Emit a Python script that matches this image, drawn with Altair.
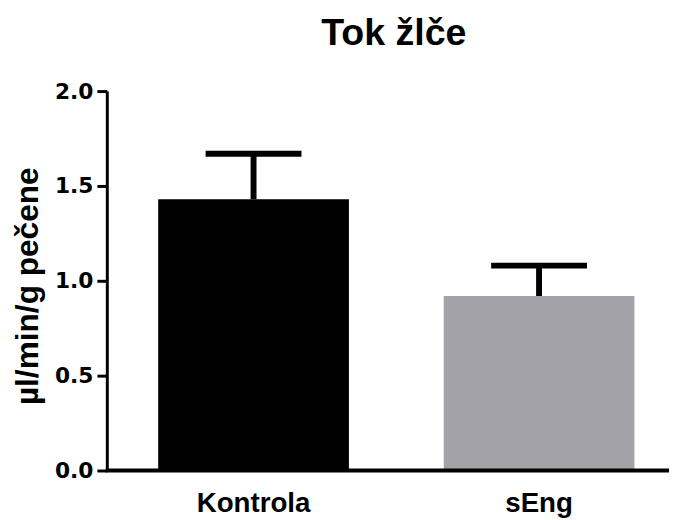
import altair as alt
import pandas as pd

groups = ["Kontrola", "sEng"]
means = [1.43, 0.92]
upper = [1.67, 1.08]
colors = ["#000000", "#a3a2a8"]
y_ticks = [0.0, 0.5, 1.0, 1.5, 2.0]

df = pd.DataFrame({"group": groups, "mean": means, "upper": upper})

FONT = "Liberation Sans"

x_enc = alt.X(
    "group:N",
    sort=groups,
    scale=alt.Scale(range=[52, 534], paddingInner=0.332, paddingOuter=0),
    axis=alt.Axis(
        title=None, domain=False, ticks=False, labelAngle=0,
        labelFont=FONT, labelFontSize=28, labelFontWeight="bold",
        labelColor="black", labelPadding=19,
    ),
)

y_scale = alt.Scale(domain=[0, 2], nice=False, zero=True)

bars = alt.Chart(df).mark_bar(opacity=1).encode(
    x=x_enc,
    y=alt.Y(
        "mean:Q",
        scale=y_scale,
        axis=alt.Axis(
            values=y_ticks, format=".1f", grid=False,
            domainColor="black", domainWidth=3, tickColor="black",
            tickWidth=3, tickSize=10, labelFont="DejaVu Sans", labelFontSize=22,
            labelFontWeight="bold", labelColor="black", labelPadding=4,
            title="µl/min/g pečene", titleFont=FONT, titleFontSize=32,
            titleFontWeight="bold", titleColor="black", titleAngle=270,
            titleX=-70, titleY=197, titleAlign="center",
            titleBaseline="alphabetic",
        ),
    ),
    color=alt.Color("group:N", scale=alt.Scale(domain=groups, range=colors), legend=None),
)

stems = alt.Chart(df).mark_rule(strokeWidth=6, color="black", opacity=1).encode(
    x=alt.X("group:N", sort=groups),
    y=alt.Y("mean:Q", scale=y_scale),
    y2="upper:Q",
)

caps = alt.Chart(df).mark_tick(thickness=6, size=97, color="black", opacity=1).encode(
    x=alt.X("group:N", sort=groups),
    y=alt.Y("upper:Q", scale=y_scale),
)

xline = alt.Chart(pd.DataFrame({"a": [0]})).mark_rule(strokeWidth=4, color="black", opacity=1).encode(
    x=alt.value(-1), x2=alt.value(569), y=alt.value(384)
)

chart = alt.layer(bars, stems, caps, xline).properties(
    width=569,
    height=384,
    background="white",
    autosize=alt.AutoSizeParams(type="none"),
    padding={"left": 100, "top": 81, "right": 1, "bottom": 47},
    title=alt.TitleParams(
        "Tok žlče", font=FONT, fontSize=38, fontWeight="bold", color="black",
        anchor="middle", frame="group", dx=6, dy=34, offset=32, baseline="alphabetic",
    ),
).configure_view(stroke=None)

chart.save("out.html", embed_options={"renderer": "svg", "actions": False})
